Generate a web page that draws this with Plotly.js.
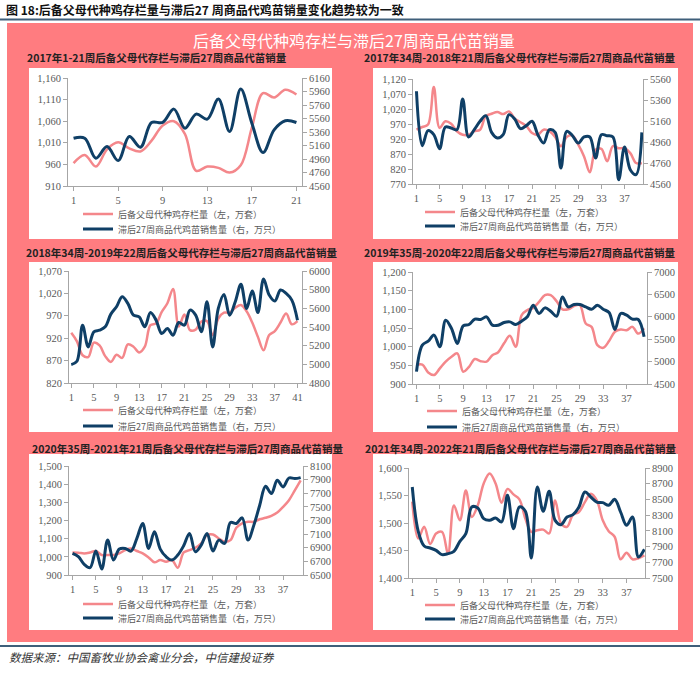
<!DOCTYPE html>
<html><head><meta charset="utf-8">
<script src="https://cdn.plot.ly/plotly-3.0.1.min.js"></script>
<style>html,body{margin:0;padding:0;background:#fff;}#chart{width:700px;height:678px;}</style>
</head><body><div id="chart"></div>
<script>
// ---------- data ----------
const weeks = [1,2,3,4,5,6,7,8,9,10,11,12,13,14,15,16,17,18,19,20,21,22,23,24,25,26,27,28,29,30,31,32,33,34,35,36,37,38,39,40,41];

const figTitle = '图 18:后备父母代种鸡存栏量与滞后27 周商品代鸡苗销量变化趋势较为一致';
const mainTitle = '后备父母代种鸡存栏与滞后27周商品代苗销量';
const sourceText = '数据来源：中国畜牧业协会禽业分会，中信建投证券';
const pinkName = '后备父母代种鸡存栏量（左，万套）';
const blueName = '滞后27周商品代鸡苗销售量（右，万只）';
const panelTitles = [
  '2017年1-21周后备父母代存栏与滞后27周商品代苗销量',
  '2017年34周-2018年21周后备父母代存栏与滞后27周商品代苗销量',
  '2018年34周-2019年22周后备父母代存栏与滞后27周商品代苗销量',
  '2019年35周-2020年22周后备父母代存栏与滞后27周商品代苗销量',
  '2020年35周-2021年21周后备父母代存栏与滞后27周商品代苗销量',
  '2021年34周-2022年21周后备父母代存栏与滞后27周商品代苗销量'
];

const p1Pink = [963,982,955,995,1011,997,990,1015,1050,1060,1030,945,955,952,941,958,1045,1125,1115,1133,1122];
const p1Blue = [5268,5268,4971,5144,4936,5293,5135,5501,5501,5699,5417,5625,5551,5848,5367,5997,5491,5055,5392,5526,5501];

const p2Pink = [951,960,968,1093,957,979,971,946,934,934,946,951,996,1004,1010,1003,1012,988,976,964,940,934,951,946,927,896,927,931,901,862,809,884,887,846,896,889,889,873,840,840];
const p2Blue = [5443,4925,5068,5030,4896,5103,5093,5077,5370,5008,5077,5157,5211,5052,4998,5030,5220,5179,5087,5116,5157,5030,4950,5077,5052,4712,5062,5020,4950,5008,5008,4808,5030,5020,5008,4601,4912,4696,4649,5052];

const p3Pink = [932,913,882,878,910,904,880,867,883,876,906,901,888,901,949,953,979,998,1030,946,973,938,939,957,958,927,964,977,977,988,994,980,955,923,893,927,936,955,975,951,958];
const p3Blue = [4997,5033,5420,5187,5348,5366,5402,5538,5617,5724,5653,5527,5509,5402,5556,5473,5330,5384,5312,5448,5420,5581,5527,5348,5670,5187,5599,5749,5527,5670,5857,5599,5785,5556,5914,5742,5678,5796,5760,5688,5473];

const p4Pink = [951,952,931,924,942,960,973,982,933,946,967,961,960,977,985,1009,1029,1000,1084,1098,1104,1120,1138,1138,1122,1100,1100,1109,1111,1062,1053,1004,997,1015,1040,1046,1044,1053,1035,1049];
const p4Blue = [4775,5368,5457,5591,5331,5924,5739,5405,5798,5828,5947,5939,5999,5813,5813,5872,5887,5828,5902,5999,6258,6073,6199,6125,6013,6444,6221,6273,6273,6221,6169,6258,6169,6095,5717,6073,6036,5947,5939,5553];

const p5Pink = [1024,1023,1019,1024,1032,1010,1010,1010,1019,1037,1046,1032,1019,997,970,982,973,982,940,1024,1037,1050,1074,1120,1123,1101,1083,1092,1160,1184,1193,1193,1207,1215,1226,1244,1275,1312,1366,1421];
const p5Blue = [6817,6768,6656,6607,6851,6588,7012,6720,6880,6890,6851,7037,7256,6890,7134,6880,6768,6720,6793,6929,7110,6842,6939,7110,6851,7012,6963,7271,7256,7339,7012,7232,7524,7802,7695,7890,7793,7924,7915,7929];

const p6Pink = [1539,1472,1493,1462,1481,1484,1444,1532,1505,1559,1511,1532,1572,1590,1572,1537,1562,1552,1543,1508,1484,1487,1488,1481,1541,1499,1493,1515,1520,1538,1553,1541,1505,1485,1475,1434,1446,1434,1436,1441];
const p6Blue = [8658,8094,7907,7882,7852,7797,7810,7840,7967,8064,8404,8391,8255,8234,8264,8213,8552,8128,8404,8349,7755,8658,8349,8603,8234,8179,8276,8306,8404,8595,8531,8467,8459,8425,8501,8340,8170,8276,7767,7865];

// left axis [min,max,step], right axis [min,max,step]
const leftAxes  = [[910,1160,50],[770,1120,50],[820,1070,50],[900,1200,50],[900,1500,100],[1400,1600,50]];
const rightAxes = [[4560,6160,200],[4560,5560,200],[4800,6000,200],[4500,7000,500],[6500,8100,200],[7500,8900,200]];

// ---------- layout geometry (pixels) ----------
const W = 700, H = 678;
const px = v => v / W;
const py = v => 1 - v / H;
const PINK_BG = '#FF7C80', PINK_LINE = '#F4878B', BLUE_LINE = '#0F3F66';

const geo = [
  {box:[68,302,78,186],  xr:[0.5,21.5], leg:[78,214,229],  t:[157,58]},
  {box:[413,643,79,184], xr:[0.4,40.2], leg:[420,212,226], t:[520,58]},
  {box:[69,302,271,383], xr:[0.6,41.8], leg:[78,410,426],  t:[182,252]},
  {box:[413,647,272,384],xr:[0.4,40.5], leg:[422,411,427], t:[520,252]},
  {box:[69,303,466,575], xr:[0.4,40.4], leg:[78,604,618],  t:[188,448]},
  {box:[409,645,468,578],xr:[0.45,40.1],leg:[420,605,619], t:[521,448]}
];
const series = [[p1Pink,p1Blue],[p2Pink,p2Blue],[p3Pink,p3Blue],[p4Pink,p4Blue],[p5Pink,p5Blue],[p6Pink,p6Blue]];

const tickFont = {family:'Liberation Serif, serif', size:10.5, color:'#595959'};
const axisBase = {showline:true, linecolor:'#A6A6A6', linewidth:1, ticks:'outside', ticklen:4,
  tickcolor:'#A6A6A6', showgrid:false, zeroline:false, tickfont:tickFont, fixedrange:true};
const legFont = {family:'Noto Sans CJK SC, sans-serif', size:9, color:'#595959'};

const traces = [];
const layout = {
  width:W, height:H, margin:{l:0,r:0,t:0,b:0},
  paper_bgcolor:'#ffffff', plot_bgcolor:'rgba(0,0,0,0)',
  showlegend:true, annotations:[], shapes:[]
};

// backgrounds
layout.shapes.push({type:'line', xref:'paper', yref:'paper', x0:0, x1:1, y0:py(19.5), y1:py(19.5), line:{color:'#3F5F7A', width:2}, layer:'below'});
layout.shapes.push({type:'rect', xref:'paper', yref:'paper', x0:px(7), x1:px(693), y0:py(642), y1:py(23), fillcolor:PINK_BG, line:{width:0}, layer:'below'});
layout.shapes.push({type:'line', xref:'paper', yref:'paper', x0:0, x1:1, y0:py(646), y1:py(646), line:{color:'#3F5F7A', width:2}, layer:'below'});
const rows = [[68,239],[262,432],[454,630]];
const cols = [[29,332],[373,678]];
rows.forEach(r => cols.forEach(c => {
  layout.shapes.push({type:'rect', xref:'paper', yref:'paper', x0:px(c[0]), x1:px(c[1]), y0:py(r[1]), y1:py(r[0]), fillcolor:'#ffffff', line:{width:0}, layer:'below'});
}));

geo.forEach((g, k) => {
  const xName = k === 0 ? 'x' : 'x' + (k + 1);
  const xKey = k === 0 ? 'xaxis' : 'xaxis' + (k + 1);
  const lIdx = 2 * k + 1, rIdx = 2 * k + 2;
  const yL = lIdx === 1 ? 'y' : 'y' + lIdx;
  const yR = 'y' + rIdx;
  const yLKey = lIdx === 1 ? 'yaxis' : 'yaxis' + lIdx;
  const yRKey = 'yaxis' + rIdx;
  const la = leftAxes[k], ra = rightAxes[k];
  const [pink, blue] = series[k];
  const xs = weeks.slice(0, pink.length);

  layout[xKey] = Object.assign({}, axisBase, {domain:[px(g.box[0]), px(g.box[1])], range:g.xr, anchor:yL,
    tickmode:'linear', tick0:1, dtick:4});
  layout[yLKey] = Object.assign({}, axisBase, {domain:[py(g.box[3]), py(g.box[2])], range:[la[0], la[1]], anchor:xName,
    tickmode:'linear', tick0:la[0], dtick:la[2], tickformat:',d'});
  layout[yRKey] = Object.assign({}, axisBase, {overlaying:yL, side:'right', anchor:xName, range:[ra[0], ra[1]],
    tickmode:'linear', tick0:ra[0], dtick:ra[2], tickformat:'d'});

  const legA = lIdx === 1 ? 'legend' : 'legend' + lIdx;
  const legB = 'legend' + rIdx;
  traces.push({type:'scatter', mode:'lines', x:xs, y:pink, xaxis:xName, yaxis:yL, name:pinkName, legend:legA,
    line:{color:PINK_LINE, width:2.5, shape:'spline', smoothing:1}, hoverinfo:'skip'});
  traces.push({type:'scatter', mode:'lines', x:xs, y:blue, xaxis:xName, yaxis:yR, name:blueName, legend:legB,
    line:{color:BLUE_LINE, width:3, shape:'spline', smoothing:1}, hoverinfo:'skip'});
  layout[legA] = {x:px(g.leg[0]), y:py(g.leg[1]), xanchor:'left', yanchor:'middle', bgcolor:'rgba(0,0,0,0)', font:legFont, itemwidth:30};
  layout[legB] = {x:px(g.leg[0]), y:py(g.leg[2]), xanchor:'left', yanchor:'middle', bgcolor:'rgba(0,0,0,0)', font:legFont, itemwidth:30};

  layout.annotations.push({xref:'paper', yref:'paper', x:px(g.t[0]), y:py(g.t[1]), xanchor:'center', yanchor:'middle',
    showarrow:false, text:'<b>' + panelTitles[k] + '</b>', font:{family:'Noto Sans CJK SC, sans-serif', size:10.5, color:'#222222'}});
});

layout.annotations.push({xref:'paper', yref:'paper', x:px(4), y:py(10), xanchor:'left', yanchor:'middle', showarrow:false,
  text:'<b>' + figTitle + '</b>', font:{family:'Noto Sans CJK SC, sans-serif', size:12, color:'#111111'}});
layout.annotations.push({xref:'paper', yref:'paper', x:px(354), y:py(40), xanchor:'center', yanchor:'middle', showarrow:false,
  text:mainTitle, font:{family:'Noto Sans CJK SC, sans-serif', size:16, color:'#ffffff'}});
layout.annotations.push({xref:'paper', yref:'paper', x:px(7), y:py(657), xanchor:'left', yanchor:'middle', showarrow:false,
  text:'<i>' + sourceText + '</i>', font:{family:'Noto Sans CJK SC, sans-serif', size:11.5, color:'#333333'}});

Plotly.newPlot('chart', traces, layout, {staticPlot:true, displayModeBar:false});
</script>
</body></html>
